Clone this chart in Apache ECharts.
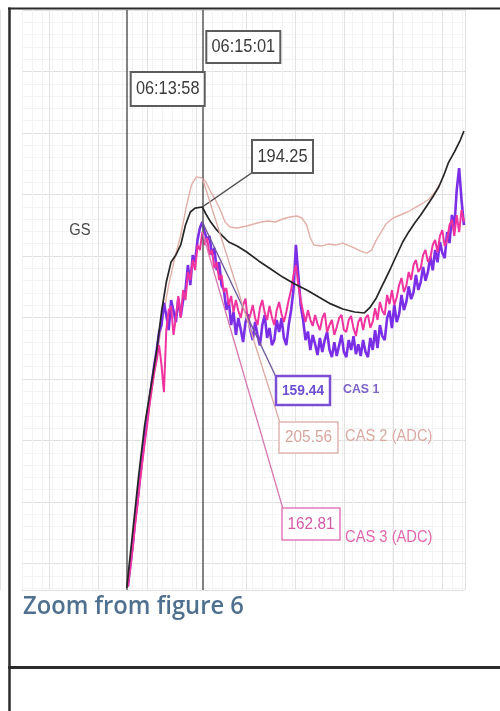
<!DOCTYPE html>
<html>
<head>
<meta charset="utf-8">
<script src="https://cdn.jsdelivr.net/npm/echarts@6/dist/echarts.min.js"></script>
<style>
  html, body { margin: 0; padding: 0; background: #ffffff; }
  #chart { width: 500px; height: 711px; }
</style>
</head>
<body>
<div id="chart"></div>
<script>
// Times are seconds after 06:00:00, speeds in knots.
const cursorLabels = ['06:13:58', '06:15:01'];

const gsTime = [838, 843, 848, 853, 858, 863, 867, 871, 875, 879, 883, 887, 891, 895, 901, 904, 908, 913, 918, 923,
  930, 938, 948, 958, 968, 978, 988, 998, 1008, 1018, 1028, 1036, 1041, 1046, 1050, 1054, 1058, 1063, 1068, 1073,
  1078, 1083, 1088, 1093, 1098, 1102, 1106, 1111, 1116, 1119];
const gsValues = [1.0, 29.4, 58.3, 83.7, 102.5, 121.7, 141.0, 156.2, 166.4, 169.9, 175.0, 185.1, 191.7, 193.7, 194.25,
  190.7, 186.6, 182.6, 179.5, 176.5, 174.5, 171.4, 166.9, 162.8, 158.7, 155.2, 152.2, 148.6, 145.1, 142.5, 141.0,
  140.5, 143.5, 148.1, 153.2, 158.2, 163.3, 169.9, 176.5, 181.6, 186.1, 190.2, 194.8, 199.3, 204.4, 210.0, 216.6,
  222.1, 228.2, 232.8];

const cas2Time = [838, 843, 848, 853, 858, 863, 868, 873, 878, 883, 888, 892, 896, 901, 904, 908, 912, 916, 920, 924,
  930, 938, 944, 950, 956, 962, 968, 974, 980, 984, 988, 991, 994, 1000, 1006, 1012, 1018, 1024, 1028, 1033,
  1038, 1042, 1046, 1050, 1054, 1060, 1066, 1072, 1078, 1084, 1090, 1095, 1099];
const cas2Values = [1.0, 24.9, 50.9, 74.8, 95.8, 115.8, 135.7, 152.2, 165.6, 177.1, 192.1, 202.1, 206.1, 205.56, 203.6,
  198.6, 194.6, 189.6, 183.6, 181.1, 180.6, 181.6, 182.6, 183.6, 184.1, 183.6, 185.1, 186.1, 186.6, 185.6, 182.1,
  175.6, 172.1, 171.6, 172.6, 172.1, 173.1, 171.6, 170.6, 169.1, 168.1, 169.6, 174.6, 178.6, 182.6, 185.6, 187.1,
  188.6, 190.6, 192.6, 195.1, 198.6, 202.6];

// CAS 1 and CAS 3 are recorded every 2 s from 06:13:59
const casStart = 839;
const casStep = 2;
const cas1Values = [1.7, 10.8, 19.5, 30.3, 39.0, 48.5, 57.6, 66.3, 74.5, 82.3, 90.1, 97.5, 104.0, 111.8,
  114.8, 124.5, 119.0, 112.6, 125.6, 121.0, 116.1, 126.5, 118.5, 125.6,
  130.0, 140.8, 132.1, 145.1, 142.1, 151.6, 156.8, 159.44,
  155.1, 151.6, 153.4, 145.1, 148.2, 138.6, 142.1, 132.1, 130.0, 121.3, 125.6, 114.8, 120.4,
  110.5, 117.8, 113.0, 107.4, 116.1, 119.5, 112.6, 108.3, 116.1, 110.5, 106.0, 114.8, 119.1, 109.2, 113.5, 106.1,
  108.3, 117.0, 111.8, 117.8, 109.2, 106.1, 114.8, 121.3, 130.0, 149.5, 136.5, 123.5, 117.0, 108.3, 112.0, 104.0,
  110.5, 106.5, 101.8, 109.2, 103.1, 108.3, 111.8, 104.0, 100.9, 107.4, 101.4, 106.0, 110.5, 103.1, 100.9, 108.3,
  104.0, 110.0, 102.2, 106.5, 101.4, 108.3, 103.1, 100.9, 109.2, 104.0, 112.6, 104.8,
  114.8, 110.0, 108.3, 117.8, 121.0, 113.5, 123.5, 116.1, 119.5, 127.8, 121.3, 124.8, 131.5, 126.0, 129.0, 136.5,
  130.0, 133.4, 140.0, 134.0, 137.8, 144.5, 138.5, 147.3, 142.0, 150.8, 146.0, 143.8, 155.1, 150.3, 162.5, 156.8,
  173.3, 182.8, 169.0, 158.1];
const cas3Values = [1.4, 10.0, 19.1, 29.6, 38.7, 49.1, 58.2, 66.9, 75.0, 84.1, 91.9, 99.1, 104.6, 111.4, 102.3, 90.0,
  118.2, 127.3, 129.0, 116.0, 124.0, 133.7, 123.7, 136.4, 131.9, 144.6, 141.0, 150.1, 145.5, 156.9, 154.6, 162.81,
  156.9, 160.1, 152.4, 154.6, 146.4, 149.2, 141.0, 143.3, 135.5, 137.3, 129.6, 133.7, 126.4,
  131.9, 127.0, 123.7, 129.6, 132.5, 121.9, 125.0, 129.6, 123.7, 120.5, 128.2, 131.9, 126.0, 122.8, 129.2, 124.0,
  120.5, 127.3, 131.0, 125.5, 121.9, 126.4, 131.9,
  136.4, 143.3, 147.8, 138.7, 131.9, 126.4, 121.9,
  127.3, 123.0, 120.1, 125.1, 121.0, 118.2, 123.7, 126.0, 117.3, 120.5, 122.8, 116.0, 119.5, 123.7, 125.1, 118.2,
  117.3, 122.8, 124.6, 119.0, 115.5, 121.9, 124.0, 118.2, 123.7, 125.1, 119.2, 122.0, 128.2, 122.8,
  131.0, 127.0, 125.1, 134.2, 130.0, 136.4, 129.6, 133.0, 138.7, 141.9, 135.5, 138.3, 144.6, 141.0, 147.8, 150.1,
  144.6, 146.4, 152.4, 154.6, 149.2, 151.0, 156.9, 159.2, 153.7, 161.0, 163.7, 156.4, 159.2, 166.0, 168.3, 161.0,
  170.5, 162.8, 172.8, 167.4];

const seriesNames = ['GS', 'CAS 1', 'CAS 2 (ADC)', 'CAS 3 (ADC)'];
const seriesColors = ['#262626', '#7a2ee6', '#e2b0a8', '#f0339e'];

function toSeconds(hms) {
  const p = hms.split(':').map(Number);
  return (p[0] - 6) * 3600 + p[1] * 60 + p[2];
}
function pairs(times, values) {
  return values.map((v, i) => [times[i], v]);
}
const casTimes = cas1Values.map((_, i) => casStart + casStep * i);

const cursorT = cursorLabels.map(toSeconds);
const gsData = pairs(gsTime, gsValues);
const cas1Data = pairs(casTimes, cas1Values);
const cas2Data = pairs(cas2Time, cas2Values);
const cas3Data = pairs(casTimes, cas3Values);

function valueAt(data, t) {
  const hit = data.find(d => d[0] === t);
  return hit ? hit[1] : null;
}

const chart = echarts.init(document.getElementById('chart'), null, { renderer: 'canvas' });

const hiddenAxis = {
  axisLine: { show: false }, axisTick: { show: false }, axisLabel: { show: false }, splitLine: { show: false }
};

chart.setOption({
  animation: false,
  backgroundColor: '#ffffff',
  grid: [
    { left: 22, right: 35, top: 10, bottom: 121 },
    { left: 22, right: 35, top: 10, bottom: 121 },
    { left: -8, right: 35, top: 10, bottom: 121 }
  ],
  xAxis: [
    Object.assign({ gridIndex: 0, type: 'value', min: 750.75, max: 1119.9 }, hiddenAxis),
    Object.assign({}, hiddenAxis, {
      gridIndex: 1, type: 'value', min: 0, max: 443, interval: 10,
      splitLine: { show: true, lineStyle: { color: '#f3f3f3', width: 1 } }
    }),
    Object.assign({}, hiddenAxis, {
      gridIndex: 2, type: 'value', min: 0, max: 473, interval: 50,
      splitLine: { show: true, lineStyle: { color: '#e2e2e2', width: 1 } }
    })
  ],
  yAxis: [
    Object.assign({ gridIndex: 0, type: 'value', min: 0, max: 294.16 }, hiddenAxis),
    Object.assign({ gridIndex: 0, type: 'value', min: 0, max: 251.29 }, hiddenAxis),
    Object.assign({ gridIndex: 0, type: 'value', min: 0, max: 289.38 }, hiddenAxis),
    Object.assign({ gridIndex: 0, type: 'value', min: 0, max: 263.77 }, hiddenAxis),
    Object.assign({}, hiddenAxis, {
      gridIndex: 1, type: 'value', inverse: true, min: 0, max: 580, interval: 61.5,
      splitLine: { show: true, lineStyle: { color: '#e0e0e0', width: 1 } },
      minorTick: { show: false, splitNumber: 5 },
      minorSplitLine: { show: true, lineStyle: { color: '#f3f3f3', width: 1 } }
    }),
    Object.assign({ gridIndex: 2, type: 'value', min: 0, max: 1 }, hiddenAxis)
  ],
  series: [
    {
      name: seriesNames[2], type: 'line', xAxisIndex: 0, yAxisIndex: 2, data: cas2Data,
      showSymbol: false, lineStyle: { color: seriesColors[2], width: 1.4 }, z: 2
    },
    {
      name: seriesNames[1], type: 'line', xAxisIndex: 0, yAxisIndex: 1, data: cas1Data,
      showSymbol: false, lineStyle: { color: seriesColors[1], width: 2.6 }, z: 3
    },
    {
      name: seriesNames[3], type: 'line', xAxisIndex: 0, yAxisIndex: 3, data: cas3Data,
      showSymbol: false, lineStyle: { color: seriesColors[3], width: 2 }, z: 4
    },
    {
      name: seriesNames[0], type: 'line', xAxisIndex: 0, yAxisIndex: 0, data: gsData,
      showSymbol: false, lineStyle: { color: seriesColors[0], width: 1.7 }, z: 5,
      markLine: {
        silent: true, symbol: 'none', label: { show: false },
        lineStyle: { color: '#5a5a5a', width: 1.5, type: 'solid' },
        data: cursorT.map(t => ({ xAxis: t }))
      }
    }
  ]
});

// Readout boxes and leader lines, anchored on the cursor samples
function pt(axisIdx, t, v) {
  return chart.convertToPixel({ xAxisIndex: 0, yAxisIndex: axisIdx }, [t, v]);
}
function textEl(str, x, y, font, fill, scaleX, align) {
  return {
    type: 'text', x: x, y: y, scaleX: scaleX, z: 120,
    style: { text: str, font: font, fill: fill, align: align || 'center', verticalAlign: 'middle' }
  };
}
function boxEl(x, y, w, h, stroke, lw) {
  return {
    type: 'rect', z: 110, shape: { x: x, y: y, width: w, height: h },
    style: { fill: '#ffffff', stroke: stroke, lineWidth: lw }
  };
}
function lineEl(p, q, stroke, lw) {
  return {
    type: 'line', z: 105, shape: { x1: p[0], y1: p[1], x2: q[0], y2: q[1] },
    style: { stroke: stroke, lineWidth: lw }
  };
}

const tCur = cursorT[1];
const gsRead = valueAt(gsData, tCur);
const c1Read = valueAt(cas1Data, tCur);
const c2Read = valueAt(cas2Data, tCur);
const c3Read = valueAt(cas3Data, tCur);
const pGS = pt(0, tCur, gsRead);
const pC1 = pt(1, tCur, c1Read);
const pC2 = pt(2, tCur, c2Read);
const pC3 = pt(3, tCur, c3Read);
const xA = pt(0, cursorT[0], 0)[0];
const xB = pt(0, cursorT[1], 0)[0];

const labelFont = '19px "Liberation Sans", Arial, sans-serif';
const fmt = v => v.toFixed(2);

const graphics = [
  // frame
  { type: 'line', z: 130, shape: { x1: 8, y1: 8.5, x2: 500, y2: 8.5 }, style: { stroke: '#2b2b2b', lineWidth: 2 } },
  { type: 'line', z: 130, shape: { x1: 9.5, y1: 7.5, x2: 9.5, y2: 711 }, style: { stroke: '#2b2b2b', lineWidth: 2.5 } },
  { type: 'line', z: 130, shape: { x1: 8, y1: 667.5, x2: 500, y2: 667.5 }, style: { stroke: '#2b2b2b', lineWidth: 3 } },

  textEl('GS', 80, 231, '16px "Liberation Sans", Arial, sans-serif', '#4a4a4a', 0.92),

  // time cursors
  boxEl(xA + 4, 72, 74, 34, '#5c5c5c', 2),
  textEl(cursorLabels[0], xA + 41, 89, labelFont, '#3a3a3a', 0.86),
  boxEl(xB + 4, 31, 74, 32, '#5c5c5c', 2),
  textEl(cursorLabels[1], xB + 41, 47, labelFont, '#3a3a3a', 0.86),

  // GS readout
  lineEl(pGS, [253, 172], '#4a4a4a', 1.5),
  boxEl(252, 140, 61, 33, '#5c5c5c', 2),
  textEl(fmt(gsRead), 282.5, 156.5, labelFont, '#3a3a3a', 0.86),

  // CAS 1 readout
  lineEl(pC1, [277, 379], '#6f5c9c', 1.4),
  boxEl(276, 376, 54, 29, '#7a4fd6', 2.5),
  textEl(fmt(c1Read), 303, 390.5, 'bold 15px "Liberation Sans", Arial, sans-serif', '#6d4fd0', 0.92),
  textEl(seriesNames[1], 343, 389, 'bold 13px "Liberation Sans", Arial, sans-serif', '#7c62c8', 0.95, 'left'),

  // CAS 2 readout
  lineEl(pC2, [280, 423], '#dcaaa3', 1.3),
  boxEl(279, 422, 59, 31, '#e0b6ae', 1.5),
  textEl(fmt(c2Read), 308.5, 437.5, '17px "Liberation Sans", Arial, sans-serif', '#d7a59e', 0.9),
  textEl(seriesNames[2], 345, 437, '16px "Liberation Sans", Arial, sans-serif', '#dba9a2', 0.92, 'left'),

  // CAS 3 readout
  lineEl(pC3, [283, 509], '#d878b0', 1.3),
  boxEl(282, 508, 58, 32, '#e27cbc', 1.5),
  textEl(fmt(c3Read), 311, 524, '17px "Liberation Sans", Arial, sans-serif', '#d55aa6', 0.9),
  textEl(seriesNames[3], 345, 538, '16px "Liberation Sans", Arial, sans-serif', '#e067ae', 0.92, 'left'),

  // caption
  textEl('Zoom from figure 6', 23, 607, '600 25px "Open Sans", "Liberation Sans", sans-serif', '#50708f', 0.95, 'left')
];

chart.setOption({ graphic: graphics });
</script>
</body>
</html>
